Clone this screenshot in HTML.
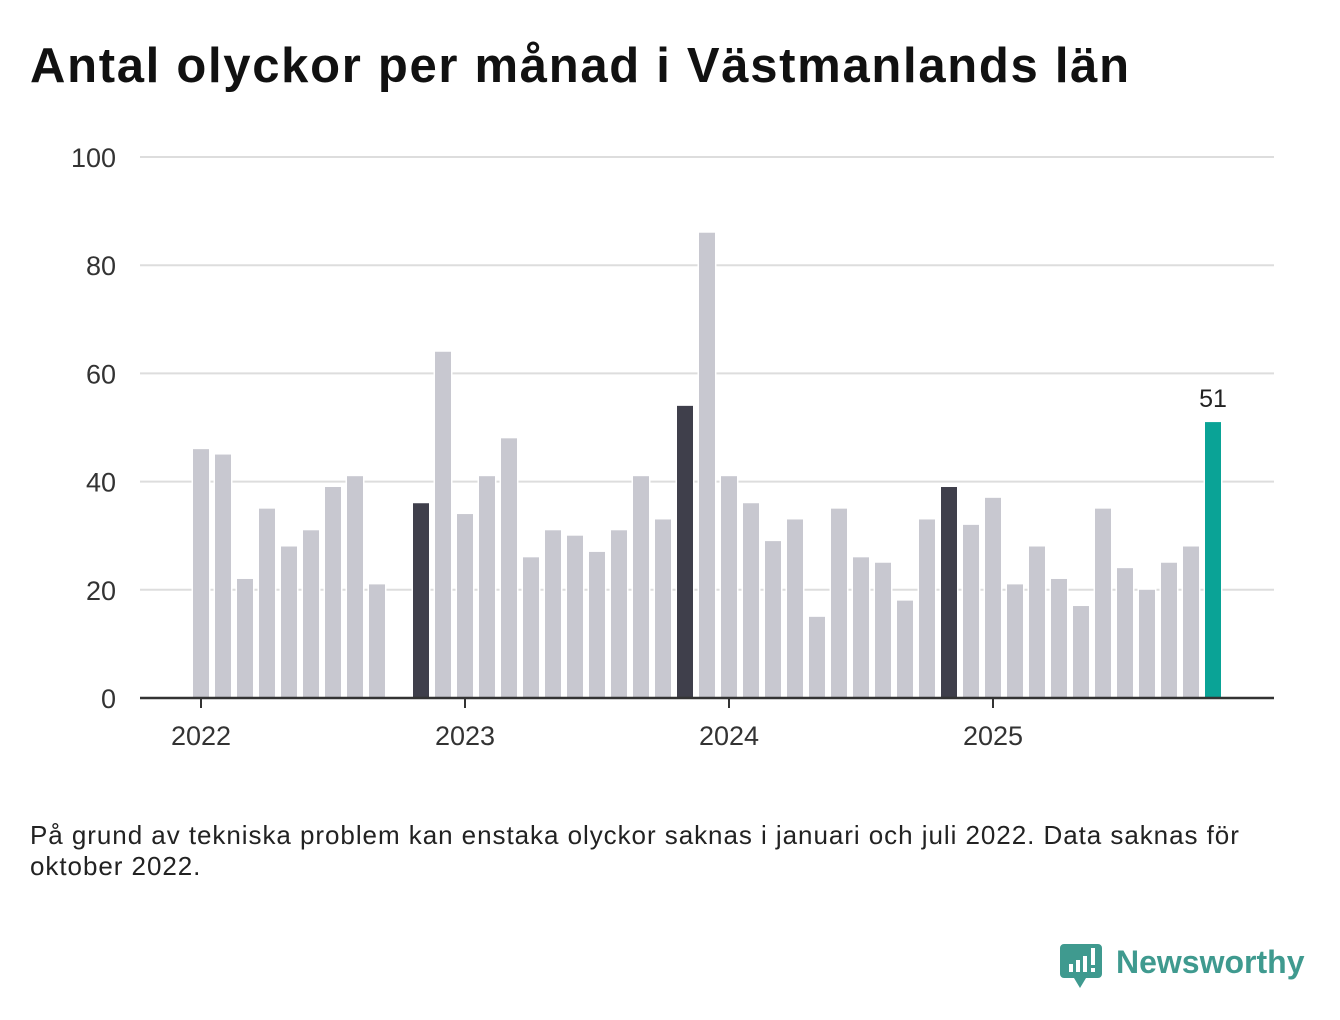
<!DOCTYPE html>
<html><head><meta charset="utf-8"><style>
body{margin:0;background:#fff;width:1340px;height:1020px;overflow:hidden;font-family:"Liberation Sans","DejaVu Sans",sans-serif;}
h1{position:absolute;left:30px;top:38px;margin:0;font-size:49px;font-weight:bold;color:#111;letter-spacing:1.7px;}
.note{position:absolute;left:30px;top:820px;font-size:26px;color:#222;line-height:31px;width:1240px;letter-spacing:0.95px;}
</style></head><body>
<h1>Antal olyckor per månad i Västmanlands län</h1>
<svg id="chart" width="1340" height="1020" style="position:absolute;left:0;top:0"></svg>
<div class="note">På grund av tekniska problem kan enstaka olyckor saknas i januari och juli 2022. Data saknas för oktober 2022.</div>
<svg style="position:absolute;left:1060px;top:940px" width="260" height="56">
<path d="M4 4 h34 a4 4 0 0 1 4 4 v26 a4 4 0 0 1 -4 4 h-12 l-6 10 l-6 -10 h-10 a4 4 0 0 1 -4 -4 v-26 a4 4 0 0 1 4 -4z" fill="#3f9a8f"/>
<rect x="9" y="24" width="4" height="8" fill="#fff"/><rect x="16" y="20" width="4" height="12" fill="#fff"/><rect x="23" y="16" width="4" height="16" fill="#fff"/><rect x="31" y="8" width="4" height="17" fill="#fff"/><rect x="31" y="28" width="4" height="4" fill="#fff"/>
<text x="56" y="33" font-size="32" font-weight="bold" fill="#3f9a8f" font-family="Liberation Sans, sans-serif">Newsworthy</text>
</svg>
<script>
const months = ["2022-01","2022-02","2022-03","2022-04","2022-05","2022-06","2022-07","2022-08","2022-09","2022-10","2022-11","2022-12",
"2023-01","2023-02","2023-03","2023-04","2023-05","2023-06","2023-07","2023-08","2023-09","2023-10","2023-11","2023-12",
"2024-01","2024-02","2024-03","2024-04","2024-05","2024-06","2024-07","2024-08","2024-09","2024-10","2024-11","2024-12",
"2025-01","2025-02","2025-03","2025-04","2025-05","2025-06","2025-07","2025-08","2025-09","2025-10","2025-11"];
const values = [46,45,22,35,28,31,39,41,21,null,36,64,
34,41,48,26,31,30,27,31,41,33,54,86,
41,36,29,33,15,35,26,25,18,33,39,32,
37,21,28,22,17,35,24,20,25,28,51];
const yTicks = [0,20,40,60,80,100];
const xTickLabels = ["2022","2023","2024","2025"];
const NS="http://www.w3.org/2000/svg";
const svg=document.getElementById('chart');
const x0=201, step=22, bw=16;
function xScale(i){return x0+i*step;}
function yScale(v){return 698-v*5.41;}
function el(t,a){const e=document.createElementNS(NS,t);for(const k in a)e.setAttribute(k,a[k]);svg.appendChild(e);return e;}
yTicks.forEach(v=>{
  if(v>0){const g=el('line',{x1:140,x2:1274,y1:yScale(v),y2:yScale(v),stroke:'#ddd','stroke-width':2});
  
  }
  const t=el('text',{x:116,y:yScale(v)+10,'text-anchor':'end','font-size':27,fill:'#333'});
  
  
  t.textContent=v;
});
const last=values.length-1;
values.forEach((v,i)=>{
  if(v==null)return;
  const isNov=months[i].endsWith("-11");
  const fill=i===last?'#0aa396':(isNov?'#3f3f4b':'#c8c8d0');
  const r=el('rect',{x:xScale(i)-bw/2,y:yScale(v),width:bw,height:yScale(0)-yScale(v),fill:fill,stroke:'#fff','stroke-width':3,'paint-order':'stroke'});
  
  
});
const lt=el('text',{x:xScale(last),y:yScale(values[last])-15,'text-anchor':'middle','font-size':25,fill:'#222'});


lt.textContent=values[last];
const ax=el('line',{x1:140,x2:1274,y1:698,y2:698,stroke:'#333','stroke-width':2.5});


xTickLabels.forEach((l,k)=>{
  const xi=xScale(k*12);
  const tk=el('line',{x1:xi,x2:xi,y1:698,y2:708,stroke:'#333','stroke-width':2});
  
  
  const t=el('text',{x:xi,y:745,'text-anchor':'middle','font-size':27,fill:'#333'});
  
  
  t.textContent=l;
});
</script>
</body></html>
